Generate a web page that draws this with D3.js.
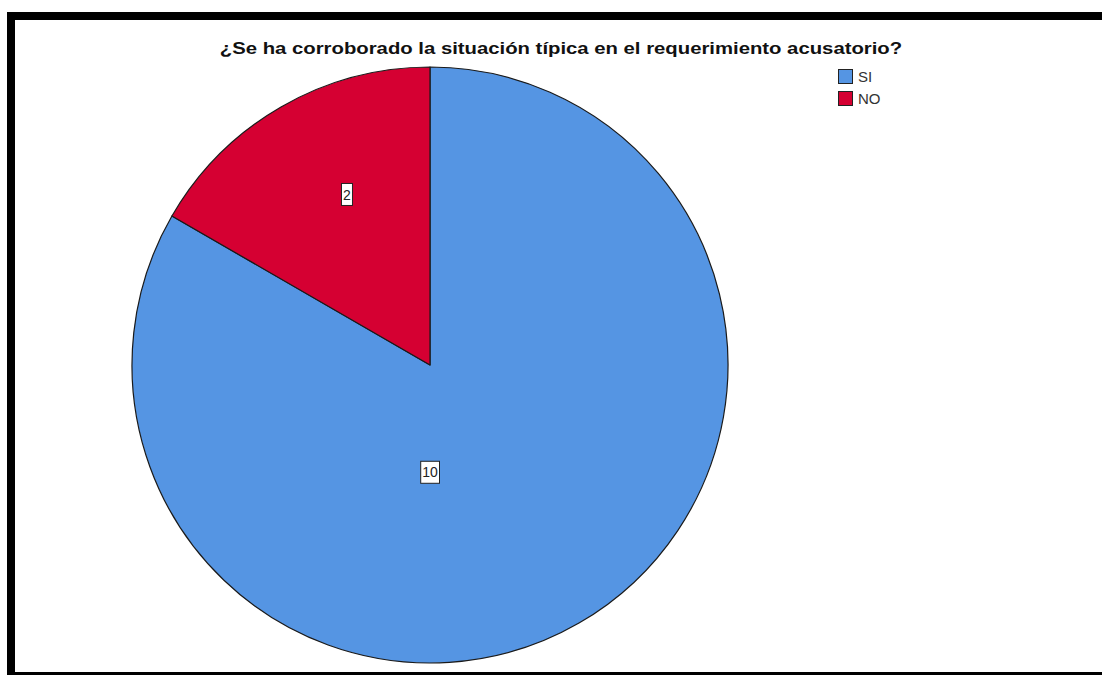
<!DOCTYPE html>
<html>
<head>
<meta charset="utf-8">
<script src="https://cdn.jsdelivr.net/npm/d3@7"></script>
<style>
  html, body { margin: 0; padding: 0; background: #fff; }
  svg { display: block; }
</style>
</head>
<body>
<svg id="chart" width="1102" height="675"></svg>
<script>
// Responses to the survey question
const categories = ["SI", "NO"];
const counts = [10, 2];
const colors = ["#5595E3", "#D50032"];
const titleText = "¿Se ha corroborado la situación típica en el requerimiento acusatorio?";

const svg = d3.select("#chart");
const W = 1102, H = 675;

// outer frame
svg.append("rect")
  .attr("x", 11).attr("y", 16)
  .attr("width", W + 40).attr("height", 660)
  .attr("fill", "#fff")
  .attr("stroke", "#000")
  .attr("stroke-width", 8);

// title (wide bold face)
svg.append("text")
  .attr("transform", "translate(561,54) scale(1.27,1)")
  .attr("text-anchor", "middle")
  .attr("font-family", "Liberation Sans, Arial, sans-serif")
  .attr("font-weight", "bold")
  .attr("font-size", 16)
  .attr("fill", "#111")
  .text(titleText);

const cx = 430, cy = 365, R = 298;

const data = categories.map((c, i) => ({ cat: c, value: counts[i], color: colors[i] }));

// slices run clockwise from 12 o'clock
const pie = d3.pie().sort(null).value(d => d.value).startAngle(0).endAngle(2 * Math.PI);
const arcs = pie(data);
const arc = d3.arc().innerRadius(0).outerRadius(R);

const g = svg.append("g").attr("transform", `translate(${cx},${cy})`);

g.selectAll("path.slice")
  .data(arcs)
  .join("path")
  .attr("class", "slice")
  .attr("d", arc)
  .attr("fill", d => d.data.color)
  .attr("stroke", "#1a1a1a")
  .attr("stroke-width", 1.2)
  .attr("stroke-linejoin", "round");

// value labels: the large slice's label hangs below the centre,
// the small slice's label sits near the slice's area centroid
function labelPos(d) {
  const span = d.endAngle - d.startAngle;
  let ang, dist;
  if (span > Math.PI) {
    ang = Math.PI;
    dist = R * 0.36;
  } else {
    const half = span / 2;
    dist = (2 * R * Math.sin(half)) / (3 * half);
    ang = (d.startAngle + d.endAngle) / 2 + 0.07;
  }
  return [dist * Math.sin(ang), -dist * Math.cos(ang)];
}

const labels = g.selectAll("g.lbl")
  .data(arcs)
  .join("g")
  .attr("class", "lbl")
  .attr("transform", d => `translate(${labelPos(d)})`);

labels.append("text")
  .attr("text-anchor", "middle")
  .attr("dy", "0.36em")
  .attr("font-family", "Liberation Sans, Arial, sans-serif")
  .attr("font-size", 14)
  .attr("fill", "#222")
  .text(d => d.data.value)
  .each(function () {
    const bb = this.getBBox();
    d3.select(this.parentNode).insert("rect", "text")
      .attr("x", bb.x - 1.5)
      .attr("y", -11)
      .attr("width", bb.width + 3)
      .attr("height", 22)
      .attr("fill", "#fff")
      .attr("stroke", "#222")
      .attr("stroke-width", 1);
  });

// legend
const legend = svg.append("g").attr("transform", "translate(838,69)");
const items = legend.selectAll("g.item")
  .data(data)
  .join("g")
  .attr("class", "item")
  .attr("transform", (d, i) => `translate(0,${i * 22})`);

items.append("rect")
  .attr("x", 0.5).attr("y", 0.5)
  .attr("width", 14).attr("height", 14)
  .attr("fill", d => d.color)
  .attr("stroke", "#222")
  .attr("stroke-width", 1);

items.append("text")
  .attr("x", 20).attr("y", 7.5)
  .attr("dy", "0.36em")
  .attr("font-family", "Liberation Sans, Arial, sans-serif")
  .attr("font-size", 15)
  .attr("fill", "#333")
  .text(d => d.cat);
</script>
</body>
</html>
